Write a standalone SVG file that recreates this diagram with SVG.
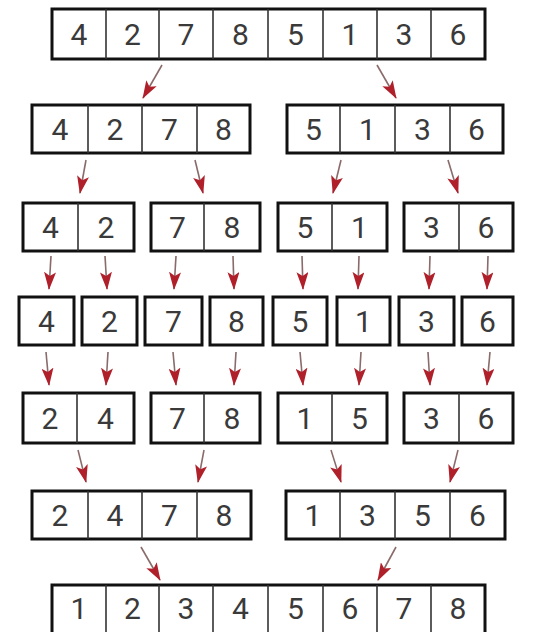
<svg xmlns="http://www.w3.org/2000/svg" width="537" height="632" viewBox="0 0 537 632">
<style>
.box{fill:#fff;stroke:#111;stroke-width:3}
.div{stroke:#333;stroke-width:1.6}
text{font-family:Roboto,"Liberation Sans",sans-serif;font-size:30px;fill:#3a3a3a;text-anchor:middle}
.arr{stroke:#8a6a6a;stroke-width:1.6;fill:none;marker-end:url(#ah)}
</style>
<defs>
<marker id="ah" markerUnits="userSpaceOnUse" markerWidth="18" markerHeight="12" viewBox="0 0 18 12" refX="17" refY="6" orient="auto">
<path d="M0,0 L18,6 L0,12 L4,6 z" fill="#b0202a"/>
</marker>
</defs>
<rect width="537" height="632" fill="#fff"/>
<g id="connectors">
<line class="arr" x1="162" y1="65" x2="143" y2="98"/>
<line class="arr" x1="377" y1="65" x2="396" y2="98"/>
<line class="arr" x1="86" y1="160" x2="80" y2="193"/>
<line class="arr" x1="195" y1="160" x2="203" y2="193"/>
<line class="arr" x1="341" y1="160" x2="333" y2="193"/>
<line class="arr" x1="448" y1="160" x2="458" y2="193"/>
<line class="arr" x1="51" y1="256" x2="49" y2="289"/>
<line class="arr" x1="105" y1="256" x2="107" y2="289"/>
<line class="arr" x1="176" y1="256" x2="174" y2="289"/>
<line class="arr" x1="233" y1="256" x2="234" y2="289"/>
<line class="arr" x1="302" y1="256" x2="303" y2="289"/>
<line class="arr" x1="359" y1="256" x2="358" y2="289"/>
<line class="arr" x1="430" y1="256" x2="429" y2="289"/>
<line class="arr" x1="488" y1="256" x2="487" y2="289"/>
<line class="arr" x1="46" y1="352" x2="49" y2="385"/>
<line class="arr" x1="108" y1="352" x2="106" y2="385"/>
<line class="arr" x1="173" y1="352" x2="176" y2="385"/>
<line class="arr" x1="236" y1="352" x2="234" y2="385"/>
<line class="arr" x1="300" y1="352" x2="303" y2="385"/>
<line class="arr" x1="361" y1="352" x2="359" y2="385"/>
<line class="arr" x1="428" y1="352" x2="430" y2="385"/>
<line class="arr" x1="490" y1="352" x2="487" y2="385"/>
<line class="arr" x1="78" y1="450" x2="86" y2="482"/>
<line class="arr" x1="204" y1="450" x2="198" y2="482"/>
<line class="arr" x1="331" y1="450" x2="341" y2="482"/>
<line class="arr" x1="458" y1="450" x2="450" y2="482"/>
<line class="arr" x1="141" y1="547" x2="160" y2="580"/>
<line class="arr" x1="396" y1="547" x2="378" y2="580"/>
</g>
<g id="row1">
<rect class="box" x="52" y="9" width="433" height="50"/>
<line class="div" x1="106" y1="9" x2="106" y2="59"/><line class="div" x1="159" y1="9" x2="159" y2="59"/><line class="div" x1="213" y1="9" x2="213" y2="59"/><line class="div" x1="268" y1="9" x2="268" y2="59"/><line class="div" x1="323" y1="9" x2="323" y2="59"/><line class="div" x1="377" y1="9" x2="377" y2="59"/><line class="div" x1="431" y1="9" x2="431" y2="59"/>
<text x="79" y="45">4</text><text x="132.5" y="45">2</text><text x="186" y="45">7</text><text x="240.5" y="45">8</text><text x="295.5" y="45">5</text><text x="350" y="45">1</text><text x="404" y="45">3</text><text x="458" y="45">6</text>
</g>
<g id="row2-left">
<rect class="box" x="32" y="105" width="218" height="48"/>
<line class="div" x1="88" y1="105" x2="88" y2="153"/><line class="div" x1="142" y1="105" x2="142" y2="153"/><line class="div" x1="197" y1="105" x2="197" y2="153"/>
<text x="60" y="140">4</text><text x="115" y="140">2</text><text x="169.5" y="140">7</text><text x="223.5" y="140">8</text>
</g>
<g id="row2-right">
<rect class="box" x="287" y="105" width="216" height="48"/>
<line class="div" x1="340" y1="105" x2="340" y2="153"/><line class="div" x1="395" y1="105" x2="395" y2="153"/><line class="div" x1="450" y1="105" x2="450" y2="153"/>
<text x="313.5" y="140">5</text><text x="367.5" y="140">1</text><text x="422.5" y="140">3</text><text x="476.5" y="140">6</text>
</g>
<g id="row3-a">
<rect class="box" x="23" y="203" width="111" height="48"/>
<line class="div" x1="78" y1="203" x2="78" y2="251"/>
<text x="50.5" y="238">4</text><text x="106" y="238">2</text>
</g>
<g id="row3-b">
<rect class="box" x="151" y="203" width="109" height="48"/>
<line class="div" x1="204" y1="203" x2="204" y2="251"/>
<text x="177.5" y="238">7</text><text x="232" y="238">8</text>
</g>
<g id="row3-c">
<rect class="box" x="278" y="203" width="109" height="48"/>
<line class="div" x1="332" y1="203" x2="332" y2="251"/>
<text x="305" y="238">5</text><text x="359.5" y="238">1</text>
</g>
<g id="row3-d">
<rect class="box" x="404" y="203" width="109" height="48"/>
<line class="div" x1="459" y1="203" x2="459" y2="251"/>
<text x="431.5" y="238">3</text><text x="486" y="238">6</text>
</g>
<g id="row4-1"><rect class="box" x="19" y="297" width="55" height="48"/><text x="46.5" y="332">4</text></g>
<g id="row4-2"><rect class="box" x="82" y="297" width="55" height="48"/><text x="109.5" y="332">2</text></g>
<g id="row4-3"><rect class="box" x="145" y="297" width="57" height="48"/><text x="173.5" y="332">7</text></g>
<g id="row4-4"><rect class="box" x="210" y="297" width="53" height="48"/><text x="236.5" y="332">8</text></g>
<g id="row4-5"><rect class="box" x="273" y="297" width="54" height="48"/><text x="300" y="332">5</text></g>
<g id="row4-6"><rect class="box" x="337" y="297" width="53" height="48"/><text x="363.5" y="332">1</text></g>
<g id="row4-7"><rect class="box" x="399" y="297" width="55" height="48"/><text x="426.5" y="332">3</text></g>
<g id="row4-8"><rect class="box" x="462" y="297" width="51" height="48"/><text x="487.5" y="332">6</text></g>
<g id="row5-a">
<rect class="box" x="23" y="393" width="111" height="50"/>
<line class="div" x1="77" y1="393" x2="77" y2="443"/>
<text x="50" y="429">2</text><text x="105.5" y="429">4</text>
</g>
<g id="row5-b">
<rect class="box" x="151" y="393" width="109" height="50"/>
<line class="div" x1="204" y1="393" x2="204" y2="443"/>
<text x="177.5" y="429">7</text><text x="232" y="429">8</text>
</g>
<g id="row5-c">
<rect class="box" x="278" y="393" width="109" height="50"/>
<line class="div" x1="332" y1="393" x2="332" y2="443"/>
<text x="305" y="429">1</text><text x="359.5" y="429">5</text>
</g>
<g id="row5-d">
<rect class="box" x="404" y="393" width="109" height="50"/>
<line class="div" x1="459" y1="393" x2="459" y2="443"/>
<text x="431.5" y="429">3</text><text x="486" y="429">6</text>
</g>
<g id="row6-left">
<rect class="box" x="32" y="491" width="219" height="48"/>
<line class="div" x1="88" y1="491" x2="88" y2="539"/><line class="div" x1="142" y1="491" x2="142" y2="539"/><line class="div" x1="197" y1="491" x2="197" y2="539"/>
<text x="60" y="526">2</text><text x="115" y="526">4</text><text x="169.5" y="526">7</text><text x="224" y="526">8</text>
</g>
<g id="row6-right">
<rect class="box" x="286" y="491" width="219" height="48"/>
<line class="div" x1="340" y1="491" x2="340" y2="539"/><line class="div" x1="395" y1="491" x2="395" y2="539"/><line class="div" x1="450" y1="491" x2="450" y2="539"/>
<text x="313" y="526">1</text><text x="367.5" y="526">3</text><text x="422.5" y="526">5</text><text x="477.5" y="526">6</text>
</g>
<g id="row7">
<rect class="box" x="52" y="585" width="433" height="60"/>
<line class="div" x1="106" y1="585" x2="106" y2="632"/><line class="div" x1="159" y1="585" x2="159" y2="632"/><line class="div" x1="213" y1="585" x2="213" y2="632"/><line class="div" x1="268" y1="585" x2="268" y2="632"/><line class="div" x1="323" y1="585" x2="323" y2="632"/><line class="div" x1="377" y1="585" x2="377" y2="632"/><line class="div" x1="431" y1="585" x2="431" y2="632"/>
<text x="79" y="619">1</text><text x="132.5" y="619">2</text><text x="186" y="619">3</text><text x="240.5" y="619">4</text><text x="295.5" y="619">5</text><text x="350" y="619">6</text><text x="404" y="619">7</text><text x="458" y="619">8</text>
</g>
</svg>
